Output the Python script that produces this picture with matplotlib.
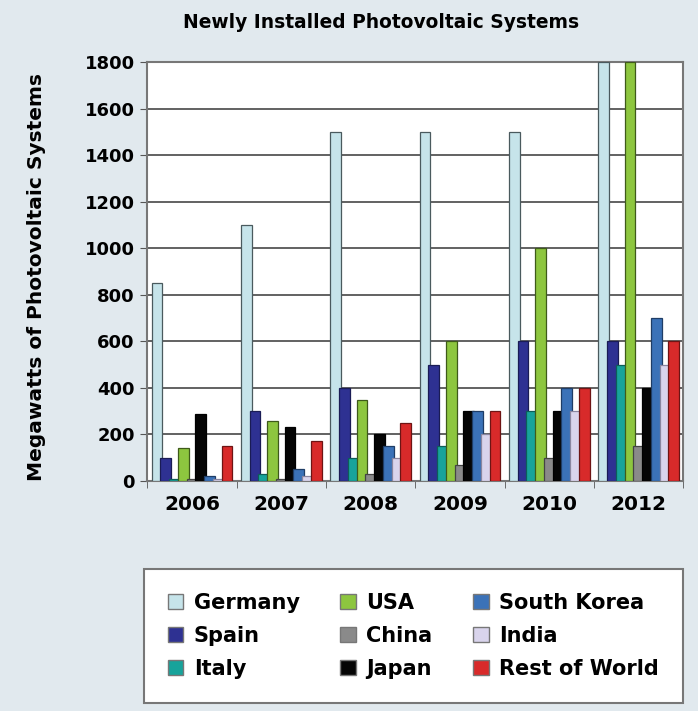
import numpy as np
import matplotlib
matplotlib.use("Agg")
import matplotlib.pyplot as plt
from matplotlib.patches import Patch

years = ["2006", "2007", "2008", "2009", "2010", "2012"]
countries = ["Germany", "Spain", "Italy", "USA", "China", "Japan",
             "South Korea", "India", "Rest of World"]

germany = [850, 1100, 1500, 1500, 1500, 1800]
spain = [100, 300, 400, 500, 600, 600]
italy = [10, 30, 100, 150, 300, 500]
usa = [140, 260, 350, 600, 1000, 1800]
china = [10, 10, 30, 70, 100, 150]
japan = [290, 230, 200, 300, 300, 400]
south_korea = [20, 50, 150, 300, 400, 700]
india = [10, 20, 100, 200, 300, 500]
rest_of_world = [150, 170, 250, 300, 400, 600]

series = [germany, spain, italy, usa, china, japan,
          south_korea, india, rest_of_world]
colors = ["#c6e4ea", "#2e3192", "#17a39b", "#8dc63f", "#8a8a8a",
          "#050505", "#3b72b8", "#d9d4ec", "#d82a2a"]
edges = ["#4a5a5e", "#1a1c55", "#0d5e59", "#3e5a1a", "#444444",
         "#000000", "#1f3d66", "#8a86a0", "#6e1414"]

bg = "#e1e9ee"
plt.rcParams["font.family"] = "DejaVu Sans"
plt.rcParams["font.weight"] = "bold"

fig = plt.figure(figsize=(6.98, 7.11), dpi=100)
fig.patch.set_facecolor(bg)
ax = fig.add_axes([0.211, 0.3235, 0.768, 0.589])
ax.set_facecolor("white")

x = np.arange(len(years))
step = 0.098
width = 0.12
for i, vals in enumerate(series):
    ax.bar(x + (i - 4) * step, vals, width=width, color=colors[i],
           edgecolor=edges[i], linewidth=0.9, zorder=3 + i)

ax.set_xlim(-0.5, len(years) - 0.5)
ax.set_ylim(0, 1800)
ax.set_yticks(np.arange(0, 1801, 200))
ax.set_xticks(x)
ax.set_xticklabels(years)
ax.set_xticks(np.arange(-0.5, len(years), 1.0), minor=True)
ax.tick_params(axis="x", which="major", length=0, labelsize=14.5, pad=10)
ax.tick_params(axis="x", which="minor", length=5, color="#555555")
ax.tick_params(axis="y", length=5, color="#555555", labelsize=13, pad=4)
ax.yaxis.grid(True, color="#555555", linewidth=1.3, zorder=1)
ax.set_axisbelow(True)
for s in ax.spines.values():
    s.set_color("#777777")
    s.set_linewidth(1.5)

fig.text(0.053, (711 - 277) / 711, "Megawatts of Photovoltaic Systems",
         rotation=90, ha="center", va="center", fontsize=14.5,
         fontweight="bold")
fig.text(0.546, 0.969, "Newly Installed Photovoltaic Systems",
         ha="center", va="center", fontsize=13.4, fontweight="bold")

handles = [Patch(facecolor=colors[i], edgecolor="#777777", label=countries[i])
           for i in range(len(countries))]
leg = fig.legend(handles=handles, ncol=3, loc="center",
                 bbox_to_anchor=(0.206, 0.0127, 0.772, 0.186), mode="expand",
                 fontsize=15, frameon=True, fancybox=False, framealpha=1,
                 facecolor="white",
                 handlelength=0.75, handleheight=0.75, handletextpad=0.5,
                 labelspacing=0.62, borderpad=1.15, borderaxespad=0,
                 columnspacing=0.6)
leg.get_frame().set_edgecolor("#777777")
leg.get_frame().set_linewidth(1.5)

fig.savefig("out.png", dpi=100, facecolor=bg)
